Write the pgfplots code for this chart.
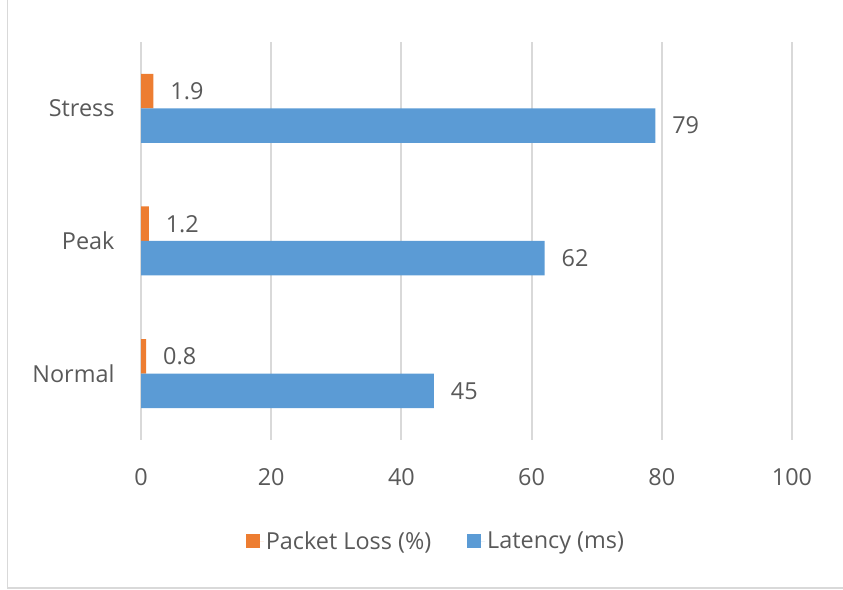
\documentclass[border=0pt]{standalone}
\usepackage{fontspec}
\setmainfont{Open Sans}
\usepackage{pgfplots}
\pgfplotsset{compat=1.18}
\definecolor{txt}{HTML}{595959}
\definecolor{gridc}{HTML}{D9D9D9}
\definecolor{lossc}{HTML}{ED7D31}
\definecolor{latc}{HTML}{5B9BD5}
\pgfplotsset{
  sqlegend/.style={legend image code/.code={%
    \path (0bp,0bp) -- (18bp,0bp);
    \fill[##1] (0bp,-7bp) rectangle (14bp,7bp);}},
}
\newcommand{\lbl}{\fontsize{23.5}{28}\selectfont}
\begin{document}
\begin{tikzpicture}
\useasboundingbox (0bp,0bp) rectangle (843bp,590bp);
% chart frame (left and bottom edges)
\draw[gridc, line width=1.5bp] (7.5bp,590bp) -- (7.5bp,2bp) -- (843bp,2bp);
\begin{axis}[
  at={(141bp,150bp)}, anchor=south west,
  width=651bp, height=398bp, scale only axis,
  xmin=0, xmax=100, ymin=-0.5, ymax=2.5,
  xtick={0,20,...,100},
  ytick={0,1,2}, yticklabels={Normal,Peak,Stress},
  xmajorgrids, major grid style={gridc, line width=2bp},
  axis line style={draw=none}, major tick length=0pt,
  /pgf/number format/assume math mode=true,
  tick label style={font=\lbl, text=txt},
  xticklabel style={yshift=-25bp},
  yticklabel style={xshift=-23bp},
  xbar, bar width=34.5bp,
  nodes near coords,
  nodes near coords style={font=\lbl, text=txt, anchor=west, xshift=13.5bp},
  legend columns=2,
  legend style={at={(0.453,-0.254)}, anchor=center, draw=none, fill=none,
    font=\lbl, text=txt,
    /tikz/every even column/.append style={column sep=34bp}},
]
\addplot[fill=lossc, draw=none, bar shift=17.25bp, sqlegend]
  coordinates {(0.8,0) (1.2,1) (1.9,2)};
\addlegendentry{Packet Loss (\%)}
\addplot[fill=latc, draw=none, bar shift=-17.25bp, sqlegend]
  coordinates {(45,0) (62,1) (79,2)};
\addlegendentry{Latency (ms)}
\end{axis}
\end{tikzpicture}
\end{document}
